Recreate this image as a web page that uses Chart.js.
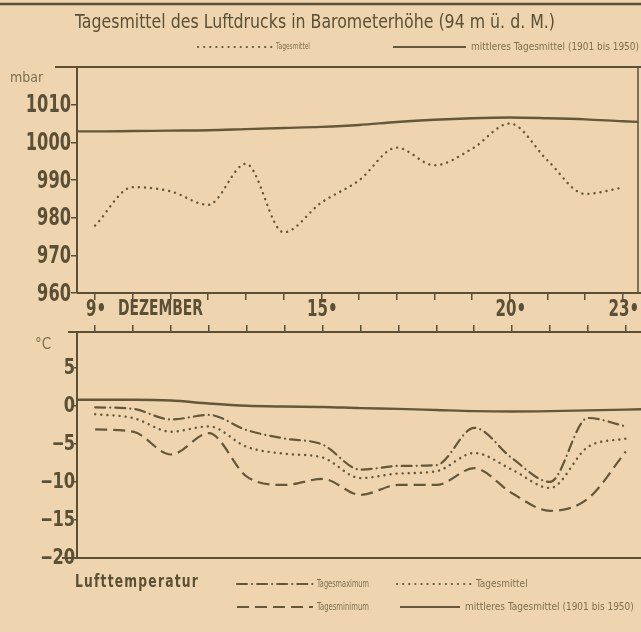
<!DOCTYPE html>
<html>
<head>
<meta charset="utf-8">
<script src="https://cdn.jsdelivr.net/npm/chart.js@4.4.1/dist/chart.umd.min.js"></script>
<style>
html, body { margin: 0; padding: 0; background: #efd5af; }
#wrap { position: relative; width: 641px; height: 632px; overflow: hidden; background: #efd5af; }
canvas { position: absolute; left: 0; }
#top { top: 0; }
#bottom { top: 320px; }
</style>
</head>
<body>
<div id="wrap">
  <canvas id="top" width="641" height="320"></canvas>
  <canvas id="bottom" width="641" height="312"></canvas>
</div>
<script>
// Dezember, Tage 9 bis 23
var days = [9, 10, 11, 12, 13, 14, 15, 16, 17, 18, 19, 20, 21, 22, 23];
var normalDays = [8, 9, 10, 11, 12, 13, 14, 15, 16, 17, 18, 19, 20, 21, 22, 23, 24];
var labeledDays = [9, 15, 20, 23];

// Luftdruck (mbar)
var pressureDaily = [977.9, 988.1, 987.0, 983.4, 994.3, 976.1, 984.0, 989.9, 998.6, 993.9, 998.3, 1005.0, 995.2, 986.3, 988.0];
var pressureNormal = [1002.9, 1002.9, 1003.0, 1003.1, 1003.2, 1003.5, 1003.8, 1004.1, 1004.6, 1005.4, 1006.0, 1006.4, 1006.6, 1006.4, 1006.1, 1005.6, 1005.2];
var pressureTicks = [960, 970, 980, 990, 1000, 1010];

// Lufttemperatur (°C)
var tempMax = [-0.2, -0.4, -1.8, -1.2, -3.2, -4.3, -5.1, -8.4, -7.9, -7.8, -2.9, -6.9, -10.0, -1.6, -2.7];
var tempMean = [-1.1, -1.6, -3.4, -2.7, -5.4, -6.3, -6.8, -9.5, -8.9, -8.6, -6.2, -8.4, -10.8, -5.4, -4.3];
var tempMin = [-3.1, -3.4, -6.4, -3.6, -9.3, -10.4, -9.6, -11.7, -10.4, -10.4, -8.2, -11.5, -13.8, -12.2, -6.0];
var tempNormal = [0.8, 0.8, 0.8, 0.7, 0.3, 0.0, -0.1, -0.15, -0.3, -0.4, -0.55, -0.7, -0.75, -0.7, -0.6, -0.5, -0.4];
var tempTicks = [-20, -15, -10, -5, 0, 5];

var INK = '#5b4f35';
var LINE = '#65573a';
var FAINT = '#7d6e50';
var NARROW = '"Liberation Sans Narrow", "DejaVu Sans Condensed", "DejaVu Sans", sans-serif';

function pts(xs, ys) {
  return xs.map(function (x, i) { return { x: x, y: ys[i] }; });
}

var DOTTED = [0.1, 6];
var DASHED = [12, 6];
var DASHDOT = [10, 5, 0.1, 5];

function capFor(dash) {
  return (dash === DOTTED || dash === DASHDOT) ? 'round' : 'butt';
}

function line(data, dash, width) {
  return {
    data: data,
    borderColor: LINE,
    borderWidth: width || 2.2,
    borderDash: dash || [],
    borderCapStyle: capFor(dash),
    pointRadius: 0,
    fill: false,
    cubicInterpolationMode: 'monotone',
    clip: 0
  };
}

// text squeezed horizontally like the condensed newspaper type
function squeezed(ctx, txt, x, y, font, k, align, color) {
  ctx.save();
  ctx.font = font;
  ctx.fillStyle = color || INK;
  var w = ctx.measureText(txt).width * k;
  var left = align === 'right' ? x - w : (align === 'center' ? x - w / 2 : x);
  ctx.translate(left, y);
  ctx.scale(k, 1);
  ctx.textAlign = 'left';
  ctx.textBaseline = 'middle';
  ctx.fillText(txt, 0, 0);
  ctx.restore();
}

function digitScale(ctx, font, digitW) {
  ctx.save();
  ctx.font = font;
  var k = digitW / ctx.measureText('0').width;
  ctx.restore();
  return k;
}

function legendSample(ctx, x1, x2, y, dash) {
  ctx.save();
  ctx.strokeStyle = LINE;
  ctx.lineWidth = 2.2;
  ctx.setLineDash(dash);
  ctx.lineCap = capFor(dash);
  ctx.beginPath();
  ctx.moveTo(x1, y);
  ctx.lineTo(x2, y);
  ctx.stroke();
  ctx.restore();
}

function smallText(ctx, txt, x, y, size, maxW) {
  ctx.save();
  ctx.fillStyle = FAINT;
  ctx.font = size + 'px ' + NARROW;
  ctx.textBaseline = 'middle';
  ctx.textAlign = 'left';
  ctx.fillText(txt, x, y, maxW);
  ctx.restore();
}

function hline(ctx, x1, x2, y, w) {
  ctx.save();
  ctx.strokeStyle = INK;
  ctx.lineWidth = w || 2;
  ctx.beginPath();
  ctx.moveTo(x1, y);
  ctx.lineTo(x2, y);
  ctx.stroke();
  ctx.restore();
}
function vline(ctx, x, y1, y2, w) {
  ctx.save();
  ctx.strokeStyle = INK;
  ctx.lineWidth = w || 2;
  ctx.beginPath();
  ctx.moveTo(x, y1);
  ctx.lineTo(x, y2);
  ctx.stroke();
  ctx.restore();
}

function yLabels(chart, right, size, digitW, fmt) {
  var ctx = chart.ctx, s = chart.scales.y;
  var font = 'bold ' + size + 'px ' + NARROW;
  var k = digitScale(ctx, font, digitW);
  s.ticks.forEach(function (t) {
    squeezed(ctx, fmt(t.value), right, s.getPixelForValue(t.value) + 1, font, k, 'right');
  });
}

var topDecor = {
  id: 'topDecor',
  afterDraw: function (chart) {
    var ctx = chart.ctx, a = chart.chartArea;
    hline(ctx, 0, 641, 4, 2.5);
    // Titel
    ctx.save();
    ctx.fillStyle = INK;
    ctx.font = '20px ' + NARROW;
    ctx.textBaseline = 'alphabetic';
    ctx.fillText('Tagesmittel des Luftdrucks in Barometerhöhe (94 m ü. d. M.)', 75, 28, 480);
    ctx.restore();
    // Legende
    legendSample(ctx, 198, 272, 47, DOTTED);
    smallText(ctx, 'Tagesmittel', 276, 47, 9, 34);
    legendSample(ctx, 393, 466, 47, []);
    smallText(ctx, 'mittleres Tagesmittel (1901 bis 1950)', 471, 47, 10, 168);
    // Rahmen
    hline(ctx, 55, 641, a.top, 2);
    vline(ctx, a.left, a.top, a.bottom, 2);
    hline(ctx, a.left, 641, a.bottom, 2);
    vline(ctx, a.right, a.top, a.bottom, 1.5);
    // Achsenbeschriftung
    ctx.save();
    ctx.fillStyle = FAINT;
    ctx.font = '14px ' + NARROW;
    ctx.textBaseline = 'middle';
    ctx.fillText('mbar', 10, 78);
    ctx.restore();
    yLabels(chart, 71, 25, 11.3, function (v) { return String(v); });
    var xs = chart.scales.x;
    var xf = 'bold 23px ' + NARROW;
    var kx = digitScale(ctx, xf, 10.5);
    labeledDays.forEach(function (d) {
      squeezed(ctx, d + '\u2022', xs.getPixelForValue(d) + 1, 310, xf, kx, 'center');
    });
    var mf = 'bold 21px ' + NARROW;
    ctx.save();
    ctx.font = mf;
    var km = 85 / ctx.measureText('DEZEMBER').width;
    ctx.restore();
    squeezed(ctx, 'DEZEMBER', 118, 310, mf, km, 'left');
  }
};

var bottomDecor = {
  id: 'bottomDecor',
  afterDraw: function (chart) {
    var ctx = chart.ctx, a = chart.chartArea;
    hline(ctx, 68, 641, a.top, 2);
    vline(ctx, a.left, a.top, a.bottom, 2);
    hline(ctx, 62, 641, a.bottom, 2);
    ctx.save();
    ctx.fillStyle = FAINT;
    ctx.font = '15px ' + NARROW;
    ctx.textBaseline = 'middle';
    ctx.fillText('°C', 35, 25);
    ctx.fillStyle = INK;
    ctx.font = 'bold 17px ' + NARROW;
    ctx.letterSpacing = '1.5px';
    ctx.fillText('Lufttemperatur', 75, 263, 124);
    ctx.restore();
    yLabels(chart, 75, 21, 11.3, function (v) { return v < 0 ? '\u2012' + Math.abs(v) : String(v); });
    // Legende
    var y1 = 264, y2 = 287;
    legendSample(ctx, 237, 313, y1, DASHDOT);
    smallText(ctx, 'Tagesmaximum', 317, y1, 10, 52);
    legendSample(ctx, 397, 472, y1, DOTTED);
    smallText(ctx, 'Tagesmittel', 476, y1, 10, 52);
    legendSample(ctx, 237, 313, y2, DASHED);
    smallText(ctx, 'Tagesminimum', 317, y2, 10, 52);
    legendSample(ctx, 400, 460, y2, []);
    smallText(ctx, 'mittleres Tagesmittel (1901 bis 1950)', 465, y2, 10, 176);
  }
};

function xScale(pos, tall) {
  return {
    type: 'linear',
    position: pos,
    min: 8.52,
    max: 23.4,
    afterBuildTicks: function (s) { s.ticks = days.map(function (d) { return { value: d }; }); },
    afterFit: function (s) { s.height = tall ? 27 : 12; },
    ticks: {
      autoSkip: false,
      maxRotation: 0,
      padding: 0,
      font: { size: 10 },
      callback: function () { return ''; }
    },
    grid: { drawOnChartArea: false, drawTicks: true, tickLength: 7, color: INK, lineWidth: 1.5 },
    border: { display: false }
  };
}

function yScale(min, max, ticks, tickLen) {
  return {
    min: min,
    max: max,
    afterBuildTicks: function (s) { s.ticks = ticks.map(function (v) { return { value: v }; }); },
    afterFit: function (s) { s.width = 77; },
    ticks: {
      padding: 0,
      font: { size: 10 },
      callback: function () { return ''; }
    },
    grid: { drawOnChartArea: false, drawTicks: true, tickLength: tickLen, color: INK, lineWidth: 1.5 },
    border: { display: false }
  };
}

new Chart(document.getElementById('top').getContext('2d'), {
  type: 'line',
  data: {
    datasets: [
      line(pts(days, pressureDaily), DOTTED, 2.4),
      line(pts(normalDays, pressureNormal), [], 2.4)
    ]
  },
  options: {
    responsive: false,
    animation: false,
    layout: { padding: { top: 67, right: 3, left: 0, bottom: 0 } },
    plugins: { legend: { display: false }, tooltip: { enabled: false } },
    scales: {
      x: xScale('bottom', true),
      y: yScale(960, 1020, pressureTicks, 6)
    }
  },
  plugins: [topDecor]
});

new Chart(document.getElementById('bottom').getContext('2d'), {
  type: 'line',
  data: {
    datasets: [
      line(pts(days, tempMax), DASHDOT, 2.2),
      line(pts(days, tempMean), DOTTED, 2.4),
      line(pts(days, tempMin), DASHED, 2.2),
      line(pts(normalDays, tempNormal), [], 2.4)
    ]
  },
  options: {
    responsive: false,
    animation: false,
    layout: { padding: { top: 0, right: 0, left: 0, bottom: 74 } },
    plugins: { legend: { display: false }, tooltip: { enabled: false } },
    scales: {
      x: xScale('top', false),
      y: yScale(-20, 9.7, tempTicks, 3)
    }
  },
  plugins: [bottomDecor]
});
</script>
</body>
</html>
